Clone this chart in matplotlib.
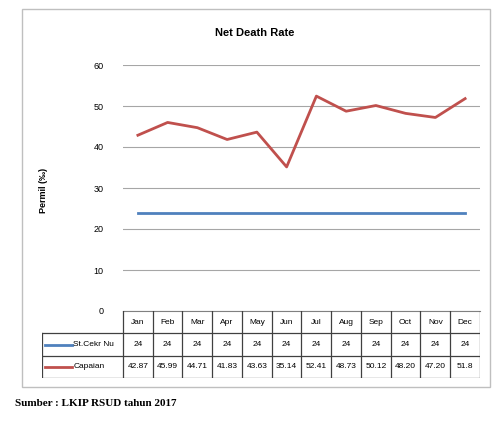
import numpy as np
import matplotlib
matplotlib.use("Agg")
import matplotlib.pyplot as plt
from matplotlib.patches import Rectangle
from matplotlib.lines import Line2D

# data
MONTHS = ['Jan', 'Feb', 'Mar', 'Apr', 'May', 'Jun', 'Jul', 'Aug', 'Sep', 'Oct', 'Nov', 'Dec']
STANDAR = [24, 24, 24, 24, 24, 24, 24, 24, 24, 24, 24, 24]
CAPAIAN = [42.87, 45.99, 44.71, 41.83, 43.63, 35.14, 52.41, 48.73, 50.12, 48.20, 47.20, 51.8]
CAPAIAN_LABELS = ['42.87', '45.99', '44.71', '41.83', '43.63', '35.14', '52.41', '48.73',
                  '50.12', '48.20', '47.20', '51.8']
SERIES_NAMES = ['St.Cekr Nu', 'Capaian']
YTICKS = [0, 10, 20, 30, 40, 50, 60]

BLUE = '#4F81BD'
RED = '#C0504D'
W, H = 494, 421

def fx(x):
    return x / W

def fy(y):
    return 1 - y / H

fig = plt.figure(figsize=(W / 100, H / 100), dpi=100)
plt.rcParams['font.family'] = ['Liberation Sans', 'DejaVu Sans']

# outer chart frame
fig.patches.append(Rectangle((fx(22), fy(387)), fx(490) - fx(22), fy(9) - fy(387),
                             transform=fig.transFigure, fill=False,
                             edgecolor='#BFBFBF', lw=1.0))

# main plot
ax = fig.add_axes([fx(123), fy(311), fx(480) - fx(123), fy(65) - fy(311)])
x = np.arange(len(MONTHS))
ax.plot(x, STANDAR, color=BLUE, lw=2)
ax.plot(x, CAPAIAN, color=RED, lw=2)
ax.set_xlim(-0.5, len(MONTHS) - 0.5)
ax.set_ylim(0, 60)
ax.set_yticks(YTICKS)
ax.set_yticklabels([str(v) for v in YTICKS], fontsize=6.5)
ax.set_xticks([])
ax.grid(axis='y', color='#A6A6A6', lw=0.8)
ax.set_axisbelow(True)
for s in ['top', 'right', 'left']:
    ax.spines[s].set_visible(False)
ax.spines['bottom'].set_color('#808080')
ax.tick_params(axis='y', length=0, pad=14)

fig.text(fx(255), fy(33), 'Net Death Rate', ha='center', va='center',
         fontsize=8, fontweight='bold')
fig.text(fx(44), fy(190), 'Permil (‰)', rotation=90, ha='center', va='center',
         fontsize=6.5, fontweight='bold')

# data table under the plot
left_cols = 2.72
tab = fig.add_axes([fx(42), fy(378), fx(480) - fx(42), fy(311) - fy(378)])
tab.set_xlim(-0.5 - left_cols, len(MONTHS) - 0.5)
tab.set_ylim(0, 3)
tab.axis('off')
lc = '#404040'
for yy in [2, 1, 0]:
    tab.plot([-0.5 - left_cols, len(MONTHS) - 0.5], [yy, yy], color=lc, lw=0.9)
for i in range(len(MONTHS) + 1):
    tab.plot([i - 0.5, i - 0.5], [0, 3], color=lc, lw=0.9)
tab.plot([-0.5 - left_cols] * 2, [0, 2], color=lc, lw=0.9)

for i, m in enumerate(MONTHS):
    tab.text(i, 2.5, m, ha='center', va='center', fontsize=6)
    tab.text(i, 1.5, str(STANDAR[i]), ha='center', va='center', fontsize=6)
    tab.text(i, 0.5, CAPAIAN_LABELS[i], ha='center', va='center', fontsize=6)

for row, (name, col) in enumerate(zip(SERIES_NAMES, [BLUE, RED])):
    yy = 1.5 - row
    tab.add_line(Line2D([-0.5 - left_cols + 0.1, -0.5 - left_cols + 1.0], [yy, yy],
                        color=col, lw=2))
    tab.text(-0.5 - left_cols + 1.05, yy, name, ha='left', va='center', fontsize=6)

fig.text(fx(15), fy(403), 'Sumber : LKIP RSUD tahun 2017', ha='left', va='center',
         fontsize=8, fontweight='bold', family=['Liberation Serif', 'DejaVu Serif'])

fig.savefig('out.png', dpi=100)
